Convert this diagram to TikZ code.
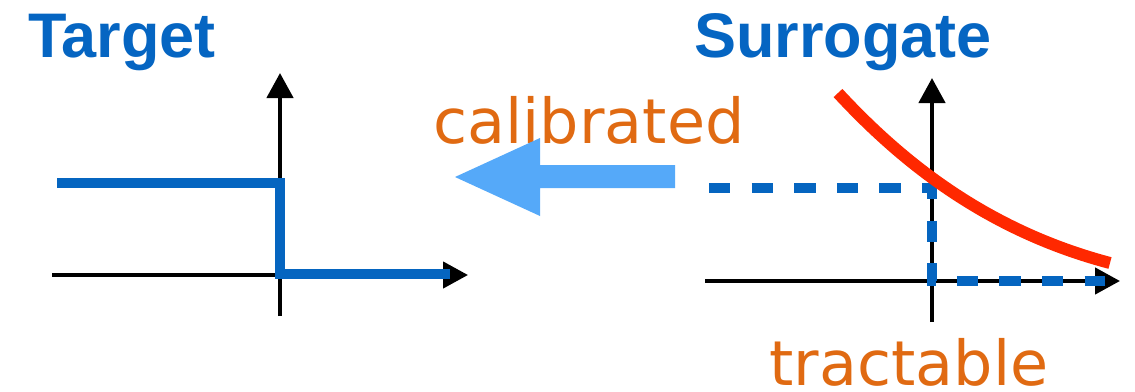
\documentclass[tikz,border=0pt]{standalone}
\usepackage{fontspec}
\setmainfont{Liberation Sans}
\newfontfamily\lightsans{DejaVu Sans}
\usetikzlibrary{arrows.meta}
\definecolor{titleblue}{HTML}{0565C2}
\definecolor{stepblue}{HTML}{0565C0}
\definecolor{arrowblue}{HTML}{55A9F9}
\definecolor{labelorange}{HTML}{E06A12}
\definecolor{curvered}{HTML}{FF2800}
\tikzset{
  title/.style={inner sep=0pt, anchor=base, text=titleblue, font=\fontsize{63}{63}\selectfont\bfseries},
  label/.style={inner sep=0pt, anchor=base, text=labelorange, font=\lightsans\fontsize{62}{62}\selectfont},
  axis/.style={line width=4.5pt, black, -{Triangle[length=25pt,width=26pt]}},
  stepline/.style={line width=10pt, stepblue},
  dashline/.style={line width=10pt, stepblue, dash pattern=on 21.3pt off 21.3pt},
  decay/.style={line width=12pt, curvered},
  bigarrow/.style={fill=arrowblue, draw=none}
}
\begin{document}
\begin{tikzpicture}[x=1pt,y=-1pt]
\useasboundingbox (0,0) rectangle (1135,391);
% titles
\node[title] (target) at (122,57) {Target};
\node[title] (surrogate) at (843,57) {Surrogate};
% labels
\node[label] (calib) at (589,143) {calibrated};
\node[label] (tract) at (909,385) {tractable};
% left axes
\coordinate (lxs) at (52,275);
\coordinate (lxe) at (468,275);
\coordinate (lys) at (280,316);
\coordinate (lye) at (280,73);
\draw[axis] (lxs) -- (lxe);
\draw[axis] (lys) -- (lye);
% step function
\coordinate (s1) at (57,183);
\coordinate (s2) at (280,183);
\coordinate (s3) at (280,274);
\coordinate (s4) at (450,274);
\draw[stepline] (s1) -- (s2) -- (s3) -- (s4);
% big arrow
\fill[bigarrow] (675,165) -- (540,165) -- (540,138) -- (455,177) -- (540,216) -- (540,188) -- (675,188) -- cycle;
% right axes
\coordinate (rxs) at (705,281);
\coordinate (rxe) at (1120,281);
\coordinate (rys) at (932,322);
\coordinate (rye) at (932,78);
\draw[axis] (rxs) -- (rxe);
\draw[axis] (rys) -- (rye);
% dashed
\coordinate (d1) at (709,188);
\coordinate (d2) at (932,188);
\coordinate (d3) at (932,281);
\coordinate (d4) at (1105,281);
\draw[dashline] (d1) -- (d2) -- (d3) -- (d4);
% red curve
\coordinate (c1) at (838,93);
\coordinate (c2) at (1110,263);
\draw[decay] (c1) .. controls (900,160) and (985,230) .. (c2);
\end{tikzpicture}
\end{document}
